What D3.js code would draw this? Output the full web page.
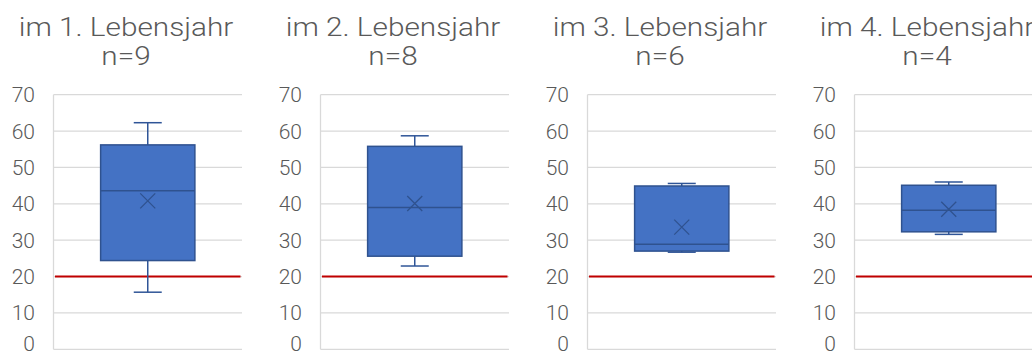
<!DOCTYPE html>
<html><head><meta charset="utf-8">
<script src="https://cdn.jsdelivr.net/npm/d3@7"></script>
<style>body{margin:0;background:#fff;overflow:hidden} svg{display:block}</style>
</head><body><svg id="c" width="1032" height="356"></svg>
<script>
const titles = ["im 1. Lebensjahr","im 2. Lebensjahr","im 3. Lebensjahr","im 4. Lebensjahr"];
const nValues = [9,8,6,4];
const minValues = [15.7,22.9,26.7,31.6];
const q1Values = [24.4,25.6,27.0,32.3];
const medianValues = [43.6,39.0,28.9,38.2];
const q3Values = [56.2,55.8,44.9,45.1];
const maxValues = [62.3,58.7,45.6,46.0];
const meanValues = [40.8,40.1,33.6,38.5];
const yTicks = [0,10,20,30,40,50,60,70];
const threshold = 20;

const svg = d3.select("#c");
const panelStep = 267, plotLeft = 53.5, plotW = 188.5, yTop = 94.7, yBot = 349.3;
const font = "Roboto, 'Liberation Sans', sans-serif";
const y = d3.scaleLinear().domain([0,70]).range([yBot, yTop]);
const panels = d3.scaleBand().domain(titles).range([0, panelStep*titles.length]);

titles.forEach((t,i)=>{
  const ox = panels(t);
  const g = svg.append("g").attr("transform",`translate(${ox},0)`);
  const x = d3.scaleBand().domain([t]).range([plotLeft, plotLeft+plotW]).paddingInner(0).paddingOuter(0.5);
  // gridlines
  g.selectAll("line.grid").data(yTicks).join("line")
    .attr("x1",plotLeft).attr("x2",plotLeft+plotW)
    .attr("y1",d=>y(d)).attr("y2",d=>y(d))
    .attr("stroke","#d9d9d9").attr("stroke-width",1.3);
  g.append("line").attr("x1",plotLeft).attr("x2",plotLeft).attr("y1",y(70)).attr("y2",y(0))
    .attr("stroke","#d9d9d9").attr("stroke-width",1.3);
  // tick labels
  g.selectAll("text.tick").data(yTicks).join("text")
    .attr("x",35).attr("y",d=>Math.min(y(d), 343)).attr("dy","0.36em")
    .attr("text-anchor","end").attr("fill","#595959")
    .style("font-family",font).style("font-weight",300).style("font-size","21px")
    .text(d=>d);
  // title (horizontally widened to match reference typeface)
  const tg = g.append("g").attr("transform","translate(126,0) scale(1.19,1)");
  const tt = tg.append("text").attr("text-anchor","middle").attr("fill","#595959")
    .style("font-family",font).style("font-weight",300).style("font-size","25px");
  tt.append("tspan").attr("x",0).attr("y",36.5).text(t);
  tt.append("tspan").attr("x",0).attr("y",65).text("n="+nValues[i]);
  // threshold line
  g.append("line").attr("x1",plotLeft+1.5).attr("x2",plotLeft+plotW-1.5)
    .attr("y1",y(threshold)).attr("y2",y(threshold))
    .attr("stroke","#c00000").attr("stroke-width",2);
  // box
  const bx = x(t), bw = x.bandwidth(), cx = bx + bw/2, cap = 14;
  const wc = "#2f5597";
  g.append("line").attr("x1",cx).attr("x2",cx).attr("y1",y(maxValues[i])).attr("y2",y(q3Values[i])).attr("stroke",wc).attr("stroke-width",1.5);
  g.append("line").attr("x1",cx).attr("x2",cx).attr("y1",y(minValues[i])).attr("y2",y(q1Values[i])).attr("stroke",wc).attr("stroke-width",1.5);
  g.append("line").attr("x1",cx-cap).attr("x2",cx+cap).attr("y1",y(maxValues[i])).attr("y2",y(maxValues[i])).attr("stroke",wc).attr("stroke-width",1.5);
  g.append("line").attr("x1",cx-cap).attr("x2",cx+cap).attr("y1",y(minValues[i])).attr("y2",y(minValues[i])).attr("stroke",wc).attr("stroke-width",1.5);
  g.append("rect").attr("x",bx).attr("width",bw)
    .attr("y",y(q3Values[i])).attr("height",y(q1Values[i])-y(q3Values[i]))
    .attr("fill","#4472c4").attr("stroke","#2f528f").attr("stroke-width",1.5);
  g.append("line").attr("x1",bx).attr("x2",bx+bw).attr("y1",y(medianValues[i])).attr("y2",y(medianValues[i]))
    .attr("stroke","#2f528f").attr("stroke-width",1.5);
  const my = y(meanValues[i]), s = 7.5;
  g.append("path").attr("d",`M${cx-s},${my-s}L${cx+s},${my+s}M${cx-s},${my+s}L${cx+s},${my-s}`)
    .attr("stroke","#2f528f").attr("stroke-width",1.3).attr("fill","none");
});
</script></body></html>
